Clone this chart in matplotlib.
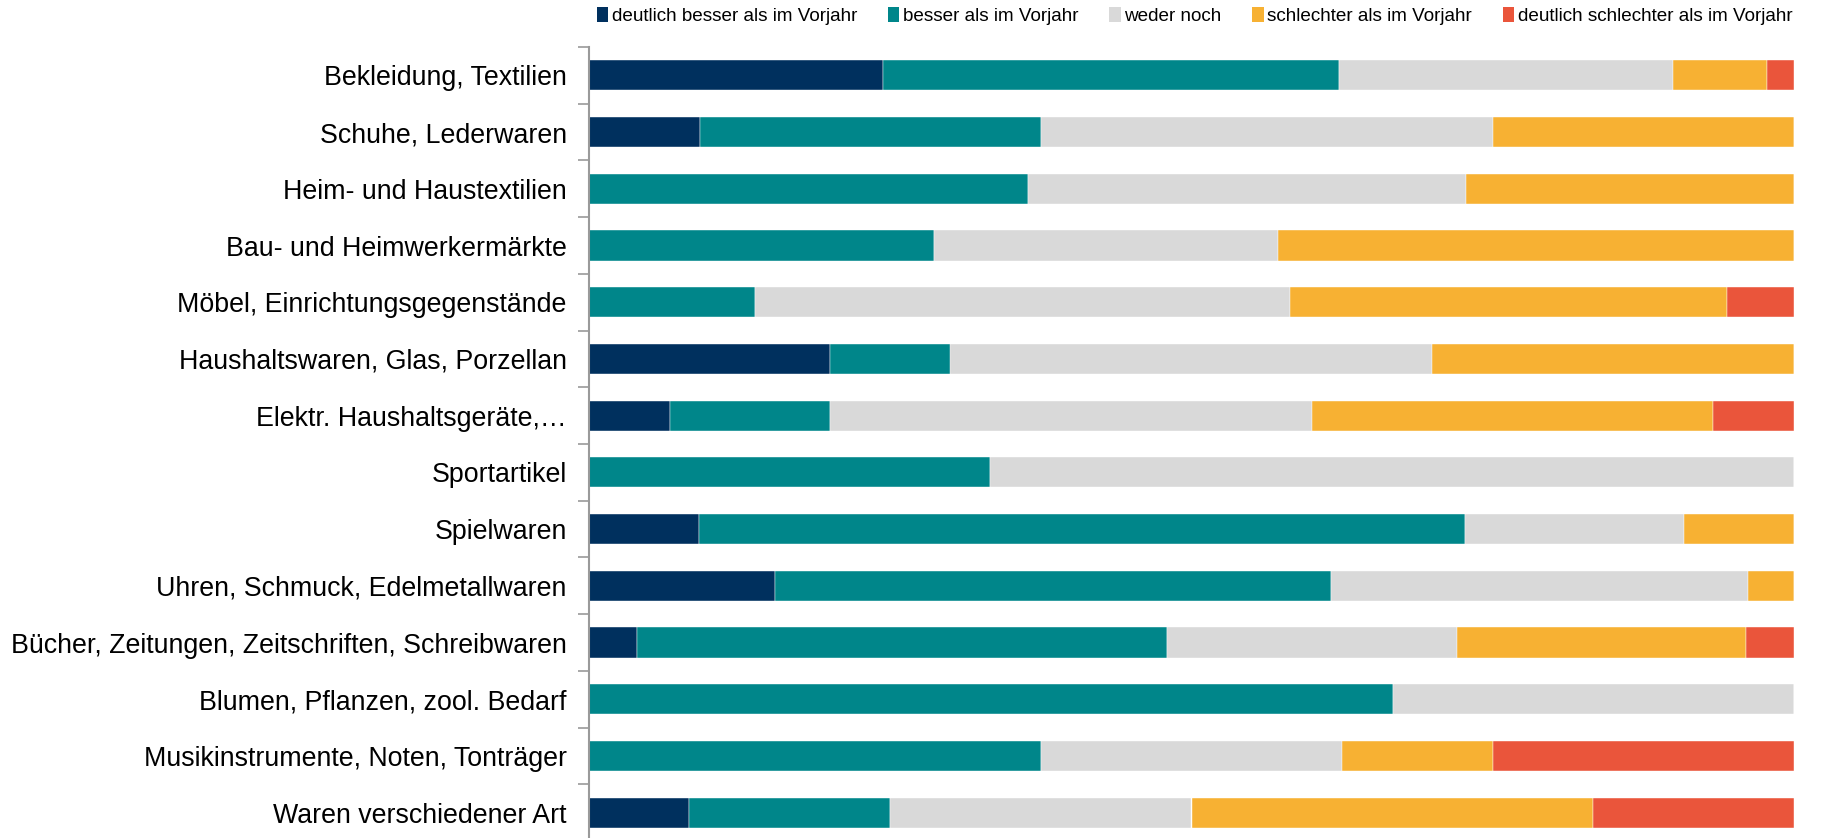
import matplotlib
matplotlib.use("Agg")
import matplotlib.pyplot as plt
from matplotlib.patches import Patch
import numpy as np

plt.rcParams['font.family'] = ['Liberation Sans', 'DejaVu Sans']

categories = [
    "Bekleidung, Textilien",
    "Schuhe, Lederwaren",
    "Heim- und Haustextilien",
    "Bau- und Heimwerkermärkte",
    "Möbel, Einrichtungsgegenstände",
    "Haushaltswaren, Glas, Porzellan",
    "Elektr. Haushaltsgeräte,…",
    "Sportartikel",
    "Spielwaren",
    "Uhren, Schmuck, Edelmetallwaren",
    "Bücher, Zeitungen, Zeitschriften, Schreibwaren",
    "Blumen, Pflanzen, zool. Bedarf",
    "Musikinstrumente, Noten, Tonträger",
    "Waren verschiedener Art",
]

series_names = [
    "deutlich besser als im Vorjahr",
    "besser als im Vorjahr",
    "weder noch",
    "schlechter als im Vorjahr",
    "deutlich schlechter als im Vorjahr",
]

deutlich_besser = [24.4, 9.2, 0.0, 0.0, 0.0, 20.0, 6.7, 0.0, 9.1, 15.4, 4.0, 0.0, 0.0, 8.3]
besser = [37.8, 28.3, 36.4, 28.6, 13.8, 10.0, 13.3, 33.3, 63.6, 46.2, 44.0, 66.7, 37.5, 16.7]
weder_noch = [27.8, 37.5, 36.4, 28.6, 44.4, 40.0, 40.0, 66.7, 18.2, 34.6, 24.0, 33.3, 25.0, 25.0]
schlechter = [7.8, 25.0, 27.2, 42.8, 36.2, 30.0, 33.3, 0.0, 9.1, 3.8, 24.0, 0.0, 12.5, 33.3]
deutlich_schlechter = [2.2, 0.0, 0.0, 0.0, 5.6, 0.0, 6.7, 0.0, 0.0, 0.0, 4.0, 0.0, 25.0, 16.7]

colors = ["#00305E", "#00868A", "#D9D9D9", "#F7B133", "#EA553B"]

data = [deutlich_besser, besser, weder_noch, schlechter, deutlich_schlechter]

fig = plt.figure(figsize=(18.24, 8.38), dpi=100)
ax = fig.add_axes([589 / 1824, -3 / 838, (1794 - 589) / 1824, (838 - 47 + 3) / 838])

y = np.arange(len(categories))
tot = np.array([sum(d[i] for d in data) for i in range(len(categories))])
left = np.zeros(len(categories))
for vals, col, name in zip(data, colors, series_names):
    v = np.array(vals, dtype=float) / tot * 100
    ax.barh(y, v, left=left, height=0.53, color=col,
            edgecolor='white', linewidth=0.3, label=name)
    left += v

ax.set_xlim(0, 100)
ax.set_ylim(len(categories) - 0.5, -0.5)
ax.set_yticks(y)
ax.set_yticklabels(categories, fontsize=19.3, color='black')
ax.tick_params(axis='y', which='major', length=0, pad=16)
ax.set_yticks(np.arange(len(categories) + 1) - 0.5, minor=True)
ax.tick_params(axis='y', which='minor', length=8, width=1.2, color='#9a9a9a', direction='out')
ax.set_xticks([])
for s in ['top', 'right', 'bottom']:
    ax.spines[s].set_visible(False)
ax.spines['left'].set_color('#9a9a9a')
ax.spines['left'].set_linewidth(1.5)

handles = [Patch(facecolor=c, edgecolor='none') for c in colors]
fig.legend(handles, series_names, loc='center right', bbox_to_anchor=(1800 / 1824, 1 - 16 / 838),
           ncol=5, frameon=False, fontsize=13.6, handlelength=0.6, handleheight=0.8,
           handletextpad=0.2, columnspacing=1.62, borderaxespad=0)

fig.savefig("out.png", dpi=100)
